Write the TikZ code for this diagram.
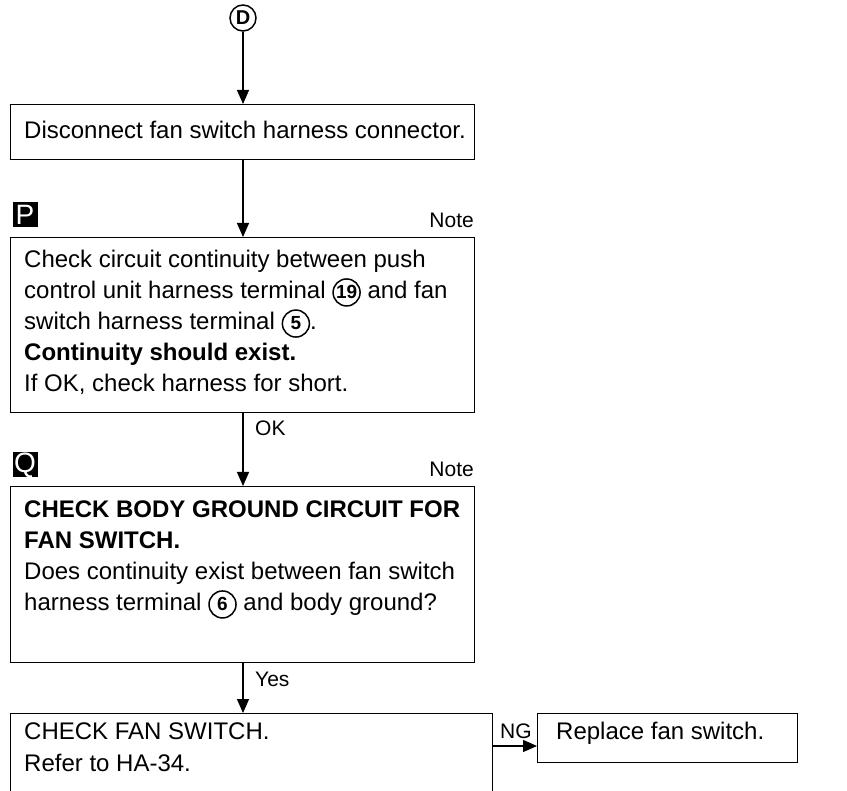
\documentclass[tikz,border=0pt]{standalone}
\usepackage{fontspec}
\setmainfont{Liberation Sans}
\usetikzlibrary{arrows.meta}
\newcommand{\mainsz}{\fontsize{24}{31}\selectfont}
\newcommand{\cnum}[2]{\tikz[baseline=(#1.base)]\node[circle,draw,line width=1.5pt,inner sep=0pt,minimum size=27pt,font=\fontsize{19}{19}\bfseries\selectfont] (#1) {#2};}
\tikzset{
  box/.style={draw, line width=1.4pt, inner sep=0pt, anchor=north west},
  txt/.style={anchor=base west, inner sep=0pt, font=\mainsz},
  arr/.style={-{Triangle[length=14pt,width=12pt]}, line width=1.4pt},
  icon/.style={fill=black, minimum size=25pt, inner sep=0pt, text=white, font=\fontsize{28}{28}\selectfont},
  lbl/.style={anchor=base west, inner sep=0pt, font=\fontsize{21}{21}\selectfont}
}
\begin{document}
\begin{tikzpicture}[x=1pt,y=-1pt]
\path[use as bounding box, clip] (0,0) rectangle (847,791);
\fill[white] (0,0) rectangle (847,791);

% start connector
\node[circle, draw, line width=1.5pt, minimum size=26pt, inner sep=0pt, font=\fontsize{20}{20}\bfseries\selectfont] (D) at (243,18) {D};

% boxes
\node[box, minimum width=464pt, minimum height=55pt] (b1) at (10,104) {};
\node[box, minimum width=464pt, minimum height=175pt] (b2) at (10,237) {};
\node[box, minimum width=464pt, minimum height=176pt] (b3) at (10,486) {};
\node[box, minimum width=482pt, minimum height=120pt] (b4) at (10,713) {};
\node[box, minimum width=260pt, minimum height=49pt] (b5) at (537,713) {};

% icons and notes
\node[icon] (P) at (25,215) {P};
\node[icon] (Q) at (25,465) {Q};
\node[lbl, anchor=base east] (n1) at (474,228) {Note};
\node[lbl, anchor=base east] (n2) at (474,477) {Note};

% texts
\node[txt] (t1) at (24,139) {Disconnect fan switch harness connector.};

\node[txt] (t2a) at (24,268) {Check circuit continuity between push};
\node[txt] (t2b) at (24,299) {control unit harness terminal \cnum{c19}{19} and fan};
\node[txt] (t2c) at (24,330) {switch harness terminal \cnum{c5}{5}.};
\node[txt, font=\mainsz\bfseries] (t2d) at (24,361) {Continuity should exist.};
\node[txt] (t2e) at (24,392) {If OK, check harness for short.};

\node[txt, font=\mainsz\bfseries] (t3a) at (24,518) {CHECK BODY GROUND CIRCUIT FOR};
\node[txt, font=\mainsz\bfseries] (t3b) at (24,549) {FAN SWITCH.};
\node[txt] (t3c) at (24,580) {Does continuity exist between fan switch};
\node[txt] (t3d) at (24,611) {harness terminal \cnum{c6}{6} and body ground?};

\node[txt] (t4a) at (24,739) {CHECK FAN SWITCH.};
\node[txt] (t4b) at (24,771) {Refer to HA-34.};

\node[txt] (t5) at (556,739) {Replace fan switch.};

% connectors
\draw[arr] (D.south) -- (D.south |- b1.north);
\draw[arr] (D |- b1.south) -- (D |- b2.north);
\draw[arr] (D |- b2.south) -- (D |- b3.north);
\draw[arr] (D |- b3.south) -- (D |- b4.north);
\node[lbl] (ok) at (255,436) {OK};
\node[lbl] (yes) at (255,686) {Yes};

\coordinate (ng) at (492,746);
\draw[arr] (ng) -- (ng -| b5.west);
\node[lbl] (ngl) at (500,738) {NG};
\end{tikzpicture}
\end{document}
